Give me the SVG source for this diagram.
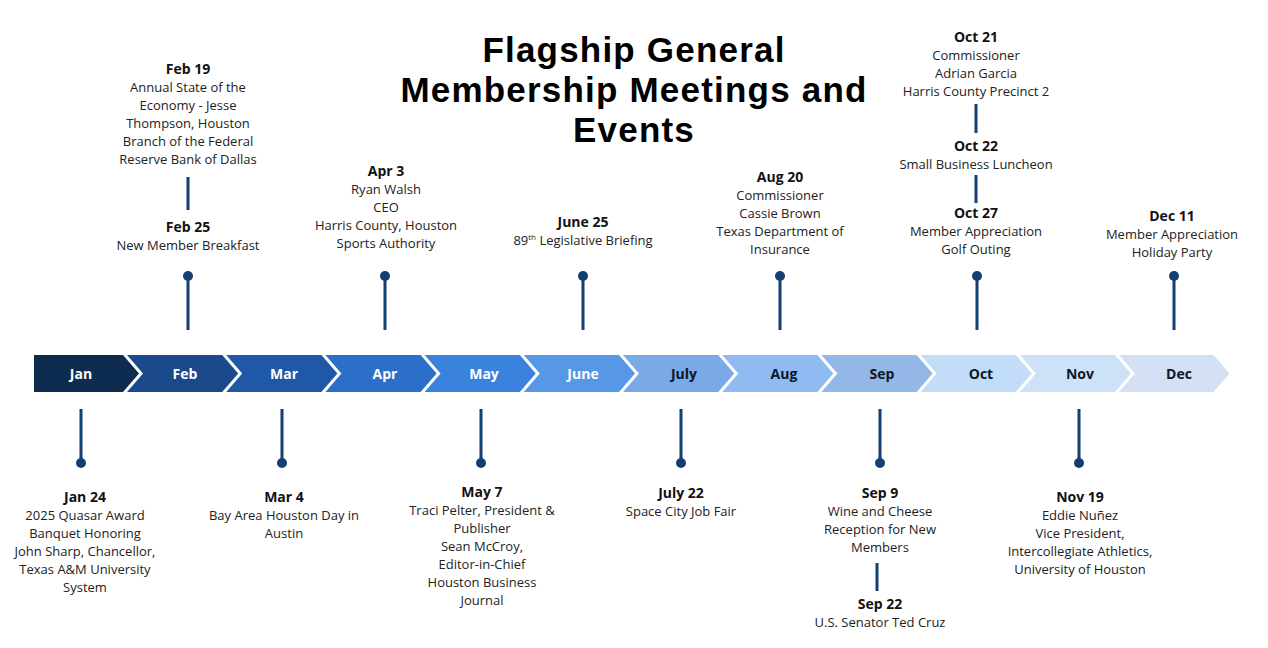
<svg xmlns="http://www.w3.org/2000/svg" width="1268" height="648" viewBox="0 0 1268 648">
<style>
.title{font-family:"Liberation Sans",Arial,sans-serif;font-weight:700;font-size:35px;letter-spacing:1.2px;fill:#000;text-anchor:middle}
.d{font-family:"Open Sans","DejaVu Sans",sans-serif;font-weight:700;font-size:14px;fill:#111;text-anchor:middle}
.b{font-family:"Open Sans","DejaVu Sans",sans-serif;font-size:13px;fill:#222;text-anchor:middle}
.m{font-family:"Open Sans","DejaVu Sans",sans-serif;font-weight:700;font-size:14px;text-anchor:middle}
.mw{fill:#fff}.mk{fill:#0d1626}
.ln{stroke:#133f73;stroke-width:3;fill:none}
.dot{fill:#133f73}
</style>
<rect width="1268" height="648" fill="#fff"/>
<g id="title">
<text class="title" x="634" y="62">Flagship General</text>
<text class="title" x="634" y="102">Membership Meetings and</text>
<text class="title" x="634" y="142">Events</text>
</g>
<g id="timeline">
<g id="m-jan"><polygon points="34,355 123,355 139,373.5 123,392 34,392" fill="#0e2b50"/><text class="m mw" x="81" y="378.5">Jan</text></g>
<g id="m-feb"><polygon points="127,355 222.2,355 238.2,373.5 222.2,392 127,392 143,373.5" fill="#1b4a8a"/><text class="m mw" x="185" y="378.5">Feb</text></g>
<g id="m-mar"><polygon points="226.2,355 321.4,355 337.4,373.5 321.4,392 226.2,392 242.2,373.5" fill="#1f58a6"/><text class="m mw" x="284" y="378.5">Mar</text></g>
<g id="m-apr"><polygon points="325.4,355 420.6,355 436.6,373.5 420.6,392 325.4,392 341.4,373.5" fill="#2b6fcb"/><text class="m mw" x="385" y="378.5">Apr</text></g>
<g id="m-may"><polygon points="424.6,355 519.8,355 535.8,373.5 519.8,392 424.6,392 440.6,373.5" fill="#3b82df"/><text class="m mw" x="484" y="378.5">May</text></g>
<g id="m-jun"><polygon points="523.8,355 619,355 635,373.5 619,392 523.8,392 539.8,373.5" fill="#5697e6"/><text class="m mw" x="583" y="378.5">June</text></g>
<g id="m-jul"><polygon points="623,355 718.2,355 734.2,373.5 718.2,392 623,392 639,373.5" fill="#79a9e7"/><text class="m mk" x="684" y="378.5">July</text></g>
<g id="m-aug"><polygon points="722.2,355 817.4,355 833.4,373.5 817.4,392 722.2,392 738.2,373.5" fill="#90bbf2"/><text class="m mk" x="784" y="378.5">Aug</text></g>
<g id="m-sep"><polygon points="821.4,355 916.6,355 932.6,373.5 916.6,392 821.4,392 837.4,373.5" fill="#93b8e8"/><text class="m mk" x="882" y="378.5">Sep</text></g>
<g id="m-oct"><polygon points="920.6,355 1015.8,355 1031.8,373.5 1015.8,392 920.6,392 936.6,373.5" fill="#c3dcf8"/><text class="m mk" x="981" y="378.5">Oct</text></g>
<g id="m-nov"><polygon points="1019.8,355 1115,355 1131,373.5 1115,392 1019.8,392 1035.8,373.5" fill="#cde2f9"/><text class="m mk" x="1080" y="378.5">Nov</text></g>
<g id="m-dec"><polygon points="1119,355 1213.5,355 1229.5,373.5 1213.5,392 1119,392 1135,373.5" fill="#d4e0f4"/><text class="m mk" x="1179" y="378.5">Dec</text></g>
</g>
<g id="connectors">
<line class="ln" x1="188" y1="276" x2="188" y2="330"/><circle class="dot" cx="188" cy="276" r="5"/>
<line class="ln" x1="385" y1="276" x2="385" y2="330"/><circle class="dot" cx="385" cy="276" r="5"/>
<line class="ln" x1="583" y1="276" x2="583" y2="330"/><circle class="dot" cx="583" cy="276" r="5"/>
<line class="ln" x1="780" y1="276" x2="780" y2="330"/><circle class="dot" cx="780" cy="276" r="5"/>
<line class="ln" x1="977" y1="276" x2="977" y2="330"/><circle class="dot" cx="977" cy="276" r="5"/>
<line class="ln" x1="1174" y1="276" x2="1174" y2="330"/><circle class="dot" cx="1174" cy="276" r="5"/>
<line class="ln" x1="81" y1="409" x2="81" y2="463"/><circle class="dot" cx="81" cy="463" r="5"/>
<line class="ln" x1="282" y1="409" x2="282" y2="463"/><circle class="dot" cx="282" cy="463" r="5"/>
<line class="ln" x1="481" y1="409" x2="481" y2="463"/><circle class="dot" cx="481" cy="463" r="5"/>
<line class="ln" x1="681" y1="409" x2="681" y2="463"/><circle class="dot" cx="681" cy="463" r="5"/>
<line class="ln" x1="880" y1="409" x2="880" y2="463"/><circle class="dot" cx="880" cy="463" r="5"/>
<line class="ln" x1="1079" y1="409" x2="1079" y2="463"/><circle class="dot" cx="1079" cy="463" r="5"/>
<line class="ln" x1="188" y1="177" x2="188" y2="210"/>
<line class="ln" x1="976" y1="104" x2="976" y2="133"/>
<line class="ln" x1="976" y1="175" x2="976" y2="203"/>
<line class="ln" x1="877" y1="563" x2="877" y2="591"/>
</g>
<g id="ev-feb19"><text class="d" x="188" y="74">Feb 19</text>
<text class="b" x="188" y="92">Annual State of the</text><text class="b" x="188" y="110">Economy - Jesse</text><text class="b" x="188" y="128">Thompson, Houston</text><text class="b" x="188" y="146">Branch of the Federal</text><text class="b" x="188" y="164">Reserve Bank of Dallas</text></g>
<g id="ev-feb25"><text class="d" x="188" y="232">Feb 25</text><text class="b" x="188" y="250">New Member Breakfast</text></g>
<g id="ev-apr3"><text class="d" x="386" y="176">Apr 3</text>
<text class="b" x="386" y="194">Ryan Walsh</text><text class="b" x="386" y="212">CEO</text><text class="b" x="386" y="230">Harris County, Houston</text><text class="b" x="386" y="248">Sports Authority</text></g>
<g id="ev-jun25"><text class="d" x="583" y="227">June 25</text>
<text class="b" x="583" y="245">89<tspan font-size="8" dy="-5">th</tspan><tspan dy="5"> Legislative Briefing</tspan></text></g>
<g id="ev-aug20"><text class="d" x="780" y="182">Aug 20</text>
<text class="b" x="780" y="200">Commissioner</text><text class="b" x="780" y="218">Cassie Brown</text><text class="b" x="780" y="236">Texas Department of</text><text class="b" x="780" y="254">Insurance</text></g>
<g id="ev-oct21"><text class="d" x="976" y="42">Oct 21</text>
<text class="b" x="976" y="60">Commissioner</text><text class="b" x="976" y="78">Adrian Garcia</text><text class="b" x="976" y="96">Harris County Precinct 2</text></g>
<g id="ev-oct22"><text class="d" x="976" y="151">Oct 22</text><text class="b" x="976" y="169">Small Business Luncheon</text></g>
<g id="ev-oct27"><text class="d" x="976" y="218">Oct 27</text>
<text class="b" x="976" y="236">Member Appreciation</text><text class="b" x="976" y="254">Golf Outing</text></g>
<g id="ev-dec11"><text class="d" x="1172" y="221">Dec 11</text>
<text class="b" x="1172" y="239">Member Appreciation</text><text class="b" x="1172" y="257">Holiday Party</text></g>
<g id="ev-jan24"><text class="d" x="85" y="502">Jan 24</text>
<text class="b" x="85" y="520">2025 Quasar Award</text><text class="b" x="85" y="538">Banquet Honoring</text><text class="b" x="85" y="556">John Sharp, Chancellor,</text><text class="b" x="85" y="574">Texas A&amp;M University</text><text class="b" x="85" y="592">System</text></g>
<g id="ev-mar4"><text class="d" x="284" y="502">Mar 4</text>
<text class="b" x="284" y="520">Bay Area Houston Day in</text><text class="b" x="284" y="538">Austin</text></g>
<g id="ev-may7"><text class="d" x="482" y="497">May 7</text>
<text class="b" x="482" y="515">Traci Pelter, President &amp;</text><text class="b" x="482" y="533">Publisher</text><text class="b" x="482" y="551">Sean McCroy,</text><text class="b" x="482" y="569">Editor-in-Chief</text><text class="b" x="482" y="587">Houston Business</text><text class="b" x="482" y="605">Journal</text></g>
<g id="ev-jul22"><text class="d" x="681" y="498">July 22</text><text class="b" x="681" y="516">Space City Job Fair</text></g>
<g id="ev-sep9"><text class="d" x="880" y="498">Sep 9</text>
<text class="b" x="880" y="516">Wine and Cheese</text><text class="b" x="880" y="534">Reception for New</text><text class="b" x="880" y="552">Members</text></g>
<g id="ev-sep22"><text class="d" x="880" y="609">Sep 22</text><text class="b" x="880" y="627">U.S. Senator Ted Cruz</text></g>
<g id="ev-nov19"><text class="d" x="1080" y="502">Nov 19</text>
<text class="b" x="1080" y="520">Eddie Nuñez</text><text class="b" x="1080" y="538">Vice President,</text><text class="b" x="1080" y="556">Intercollegiate Athletics,</text><text class="b" x="1080" y="574">University of Houston</text></g>
</svg>
